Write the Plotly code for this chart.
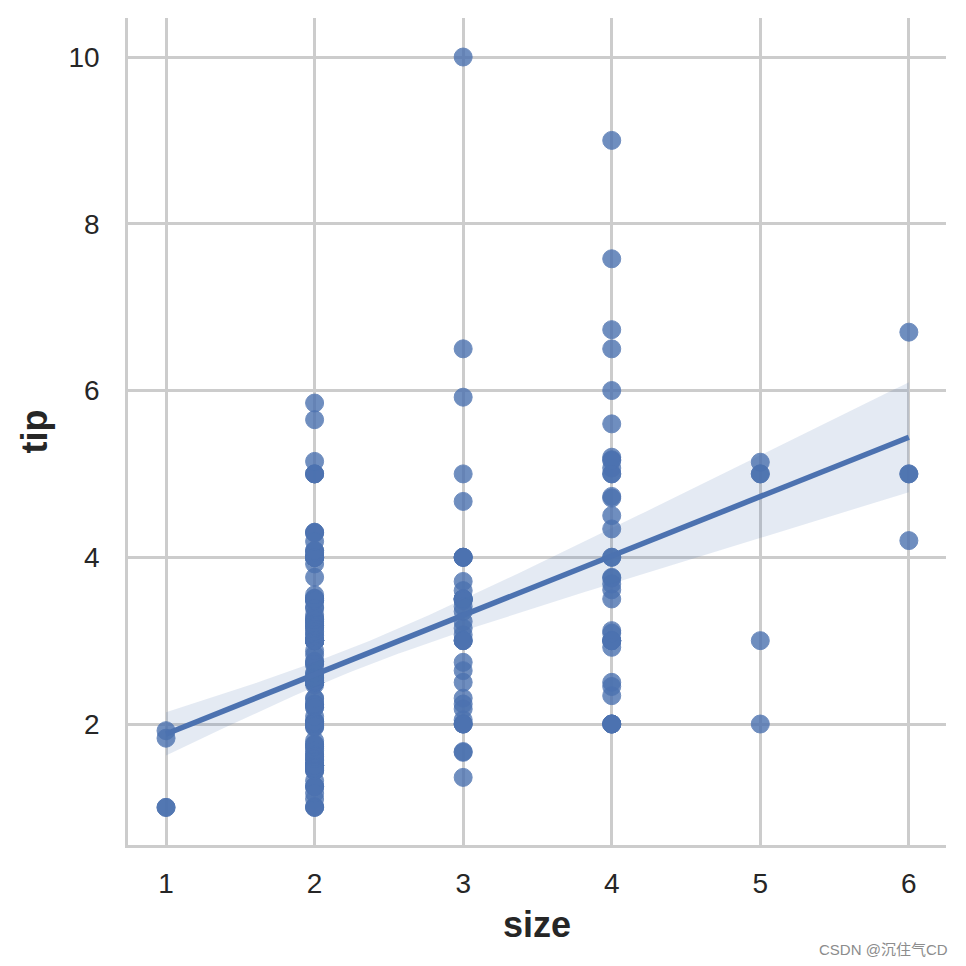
import numpy as np
import plotly.graph_objects as go

# ---- data: tip values grouped by party size (tips dataset) ----
sizes = [1, 2, 3, 4, 5, 6]
tips_size1 = [1.00, 1.83, 1.00, 1.92]
tips_size2 = [1.01, 3.31, 2.00, 1.96, 3.23, 1.71, 1.57, 3.02, 3.92, 4.08, 2.75, 2.23, 3.18, 2.00, 2.00,
              4.30, 3.00, 1.45, 3.00, 3.27, 2.54, 3.06, 1.32, 3.00, 5.00, 3.00, 2.50, 2.60, 1.56, 3.51,
              1.50, 1.76, 3.21, 2.00, 1.98, 2.47, 2.01, 2.09, 1.97, 3.14, 5.00, 2.20, 1.25, 3.08, 3.00,
              2.71, 3.00, 3.40, 5.00, 2.03, 2.00, 4.00, 5.85, 3.00, 3.00, 3.50, 1.00, 4.30, 3.25, 4.00,
              1.50, 3.00, 1.50, 2.50, 3.00, 3.48, 4.08, 1.64, 4.06, 4.29, 3.76, 4.00, 3.00, 2.55, 3.50,
              1.50, 1.80, 2.31, 1.68, 2.50, 2.00, 2.52, 1.48, 2.00, 2.00, 1.50, 2.83, 1.50, 2.00, 3.25,
              1.25, 2.00, 2.00, 2.00, 2.75, 3.50, 2.30, 1.50, 1.63, 1.73, 2.00, 2.50, 2.00, 2.61, 2.50,
              2.00, 3.00, 2.24, 1.61, 2.00, 3.16, 5.15, 3.18, 4.00, 3.11, 2.00, 2.00, 4.00, 3.55, 5.65,
              3.00, 1.50, 4.19, 2.56, 2.02, 4.00, 1.44, 2.00, 2.00, 2.00, 2.01, 2.00, 2.50, 2.03, 2.23,
              2.50, 1.10, 1.50, 1.44, 2.20, 3.48, 1.58, 2.50, 2.00, 2.72, 2.88, 3.39, 1.47, 3.00, 1.25,
              1.00, 1.17, 2.00, 2.00, 1.75, 3.00]
tips_size3 = [1.66, 3.50, 3.35, 1.67, 3.71, 3.50, 3.60, 2.00, 3.07, 2.31, 5.00, 2.24, 2.05, 2.64,
              3.15, 3.00, 2.50, 4.00, 4.00, 2.18, 1.36, 2.74, 2.00, 3.48, 10.00, 3.50, 3.50, 3.50,
              4.00, 4.00, 3.23, 3.41, 2.00, 6.50, 3.00, 3.00, 4.67, 5.92]
tips_size4 = [3.61, 4.71, 3.12, 5.00, 3.00, 7.58, 2.34, 2.50, 2.45, 5.60, 6.00, 5.20, 4.34, 3.00,
              6.73, 3.76, 4.00, 5.17, 4.73, 5.07, 2.92, 2.00, 2.00, 3.75, 2.00, 3.50, 4.50, 3.68,
              6.50, 5.00, 4.00, 3.00, 5.16, 9.00, 3.09, 3.00, 2.00]
tips_size5 = [5.00, 5.14, 5.00, 2.00, 3.00]
tips_size6 = [4.20, 6.70, 5.00, 5.00]

x_ticks = [1, 2, 3, 4, 5, 6]
y_ticks = [2, 4, 6, 8, 10]
x_title = "size"
y_title = "tip"
watermark = "CSDN @沉住气CD"

groups = [tips_size1, tips_size2, tips_size3, tips_size4, tips_size5, tips_size6]
x = np.concatenate([np.full(len(g), s, dtype=float) for s, g in zip(sizes, groups)])
y = np.concatenate([np.array(g, dtype=float) for g in groups])

# ---- linear regression with robust (sandwich) 95% band ----
X = np.column_stack([np.ones_like(x), x])
XtX_inv = np.linalg.inv(X.T @ X)
beta = XtX_inv @ X.T @ y
resid = y - X @ beta
meat = X.T @ (X * (resid ** 2)[:, None])
V = XtX_inv @ meat @ XtX_inv
grid = np.linspace(x.min(), x.max(), 100)
G = np.column_stack([np.ones_like(grid), grid])
yhat = G @ beta
se = np.sqrt(np.einsum("ij,jk,ik->i", G, V, G))
lo = yhat - 1.96 * se
hi = yhat + 1.96 * se

BLUE = "#4C72B0"
GRID = "#cccccc"
TXT = "#262626"
FONT = "Liberation Sans, Arial, Noto Sans CJK SC, sans-serif"

fig = go.Figure()
fig.add_trace(go.Scatter(
    x=x, y=y, mode="markers",
    marker=dict(color=BLUE, size=18, opacity=0.8, line=dict(width=1, color=BLUE)),
    hoverinfo="x+y", showlegend=False))
fig.add_trace(go.Scatter(
    x=np.concatenate([grid, grid[::-1]]), y=np.concatenate([hi, lo[::-1]]),
    fill="toself", fillcolor="rgba(76,114,176,0.15)", line=dict(width=0),
    mode="lines", hoverinfo="skip", showlegend=False))
fig.add_trace(go.Scatter(
    x=grid, y=yhat, mode="lines", line=dict(color=BLUE, width=5.5),
    hoverinfo="skip", showlegend=False))

fig.update_layout(
    width=966, height=966,
    margin=dict(l=128, r=20, t=18, b=121),
    paper_bgcolor="white", plot_bgcolor="white",
    font=dict(family=FONT, color=TXT),
    showlegend=False,
    annotations=[dict(text=watermark, xref="paper", yref="paper",
                      x=(950 - 128) / 818, y=(845 - 949) / 827,
                      xanchor="right", yanchor="middle", showarrow=False,
                      font=dict(size=15, color="#8c8c8c", family=FONT))],
)
fig.update_xaxes(
    range=[0.744, 6.25], tickvals=x_ticks, ticks="",
    showgrid=True, gridcolor=GRID, gridwidth=2.5,
    showline=True, linecolor=GRID, linewidth=2.5, zeroline=False,
    tickfont=dict(size=28, color=TXT), ticklabelstandoff=12,
    title=dict(text="<b>%s</b>" % x_title, font=dict(size=36, color=TXT), standoff=14),
)
fig.update_yaxes(
    range=[0.549, 10.468], tickvals=y_ticks, ticks="",
    showgrid=True, gridcolor=GRID, gridwidth=2.5,
    showline=True, linecolor=GRID, linewidth=2.5, zeroline=False,
    tickfont=dict(size=28, color=TXT), ticklabelstandoff=20,
    title=dict(text="<b>%s</b>" % y_title, font=dict(size=36, color=TXT), standoff=10),
)

fig.write_html("out.html")
